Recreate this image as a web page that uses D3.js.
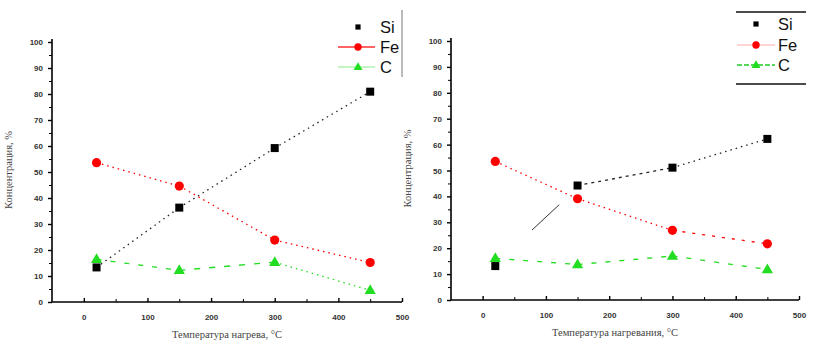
<!DOCTYPE html>
<html><head><meta charset="utf-8">
<script src="https://cdn.jsdelivr.net/npm/d3@7"></script>
<style>body{margin:0;background:#fff}svg{display:block}</style>
</head><body>
<svg id="c" width="822" height="362"></svg>
<script>
const temps = [20, 150, 300, 450];
const xTicks = [0, 100, 200, 300, 400, 500];
const yTicks = [0, 10, 20, 30, 40, 50, 60, 70, 80, 90, 100];
const seriesNames = ["Si", "Fe", "C"];
const siLeft = [13.3, 36.3, 59.2, 80.9];
const feLeft = [53.6, 44.6, 23.8, 15.2];
const cLeft = [16.4, 12.2, 15.3, 4.5];
const siRight = [13.1, 44.2, 51.1, 62.2];
const feRight = [53.5, 39.1, 26.9, 21.7];
const cRight = [16.1, 13.7, 17.0, 11.8];
const strayRight = [[78, 27], [121, 36.8]];
const yTitle = "Концентрация, %";
const xTitleLeft = "Температура нагрева, °С";
const xTitleRight = "Температура нагревания, °С";

const svg = d3.select("#c");

function marker(g, name, x, y, s) {
  s = s || 1;
  if (name === "Si") g.append("rect").attr("x", x - 4*s).attr("y", y - 4*s).attr("width", 8*s).attr("height", 8*s).attr("fill", "#000");
  else if (name === "Fe") g.append("circle").attr("cx", x).attr("cy", y).attr("r", 4.6*s).attr("fill", "#ff0000");
  else g.append("path").attr("d", d3.symbol(d3.symbolTriangle, 55*s*s)()).attr("transform", `translate(${x},${y+0.5})`).attr("fill", "#22dd22");
}

function chart(cfg) {
  const x = d3.scaleLinear().domain([-50, 500]).range([cfg.x0, cfg.x1]);
  const y = d3.scaleLinear().domain([0, 100]).range([cfg.y0, cfg.y1]);
  const g = svg.append("g");
  const ya = d3.axisLeft(y).tickValues(yTicks).tickSize(4).tickFormat(d3.format("d"));
  const yg = g.append("g").attr("transform", `translate(${cfg.x0},0)`).call(ya);
  yg.select(".domain").attr("d", `M0,${cfg.y0}V${cfg.y1 - 3}`).attr("stroke-width", 1.6);
  yg.selectAll(".tick line").attr("stroke-width", 1.4);
  yg.selectAll("text").attr("font-family", "Liberation Sans, Arial").attr("font-size", 8).attr("font-weight", "bold").attr("fill", "#333").attr("dx", -2);
  g.append("g").attr("transform", `translate(${cfg.x0},0)`)
    .call(d3.axisLeft(y).tickValues(d3.range(5, 100, 10)).tickSize(3).tickFormat(""))
    .call(s => s.select(".domain").remove());
  const xa = d3.axisBottom(x).tickValues(xTicks).tickSize(-4).tickPadding(12).tickFormat(d3.format("d"));
  const xg = g.append("g").attr("transform", `translate(0,${cfg.y0})`).call(xa);
  xg.select(".domain").attr("d", `M${cfg.x0},0H${cfg.x1}`).attr("stroke-width", 1.6);
  xg.selectAll(".tick line").attr("stroke-width", 1.4);
  xg.selectAll("text").attr("font-family", "Liberation Sans, Arial").attr("font-size", 8).attr("font-weight", "bold").attr("fill", "#333");
  g.append("g").attr("transform", `translate(0,${cfg.y0})`)
    .call(d3.axisBottom(x).tickValues(d3.range(50, 500, 100)).tickSize(-3).tickFormat(""))
    .call(s => s.select(".domain").remove());
  g.append("text").attr("x", (cfg.x0 + cfg.x1) / 2 + cfg.tdx).attr("y", cfg.y0 + 36)
    .attr("text-anchor", "middle").attr("font-family", "Liberation Serif, serif").attr("font-size", 10.5).attr("fill", "#444")
    .text(cfg.xTitle);
  g.append("text").attr("transform", `translate(${cfg.x0 - 40},${y(50) - 2}) rotate(-90)`)
    .attr("text-anchor", "middle").attr("font-family", "Liberation Serif, serif").attr("font-size", 10.5).attr("fill", "#444")
    .text(yTitle);
  cfg.series.forEach(sr => {
    for (let i = 0; i < temps.length - 1; i++) {
      if (sr.dash[i] === null) continue;
      g.append("line")
        .attr("x1", x(temps[i])).attr("y1", y(sr.vals[i]))
        .attr("x2", x(temps[i + 1])).attr("y2", y(sr.vals[i + 1]))
        .attr("stroke", sr.stroke).attr("stroke-width", 1.3)
        .attr("stroke-dasharray", sr.dash[i]);
    }
  });
  if (cfg.stray) {
    g.append("line").attr("x1", x(cfg.stray[0][0])).attr("y1", y(cfg.stray[0][1]))
      .attr("x2", x(cfg.stray[1][0])).attr("y2", y(cfg.stray[1][1]))
      .attr("stroke", "#333").attr("stroke-width", 1);
  }
  cfg.series.forEach(sr => {
    sr.vals.forEach((v, i) => marker(g, sr.name, x(temps[i]), y(v)));
  });
  return {x, y};
}

chart({x0: 52, x1: 402, y0: 302, y1: 42, tdx: 0, xTitle: xTitleLeft,
  series: [
    {name: "C", vals: cLeft, stroke: "#22dd22", dash: ["5,9", "6,9", "1.5,4"]},
    {name: "Fe", vals: feLeft, stroke: "#ff0000", dash: ["1.5,4", "1.5,4", "1.5,4"]},
    {name: "Si", vals: siLeft, stroke: "#222", dash: ["1.5,4", "1.5,4", "1.5,4"]}
  ]});
chart({x0: 451, x1: 799, y0: 300, y1: 41, tdx: -10, xTitle: xTitleRight, stray: strayRight,
  series: [
    {name: "C", vals: cRight, stroke: "#22dd22", dash: ["5,9", "5,9", "5,9"]},
    {name: "Fe", vals: feRight, stroke: "#ff0000", dash: ["1.5,4", "1.5,4", "3,7"]},
    {name: "Si", vals: siRight, stroke: "#222", dash: [null, "3,4", "1.5,4"]}
  ]});

function legend(lx, tx, ys, lineX0, lineX1, lineStyles) {
  const g = svg.append("g");
  seriesNames.forEach((n, i) => {
    const st = lineStyles[i];
    if (st) g.append("line").attr("x1", lineX0).attr("x2", lineX1).attr("y1", ys[i]).attr("y2", ys[i])
      .attr("stroke", st.c).attr("stroke-width", st.w).attr("stroke-dasharray", st.d || null);
    marker(g, n, lx, ys[i], n === "Si" ? 0.65 : 0.8);
    g.append("text").attr("x", tx).attr("y", ys[i] + 6).attr("font-family", "Liberation Sans, Arial")
      .attr("font-size", 16.5).attr("fill", "#111").text(n);
  });
  return g;
}
const lg1 = legend(358, 380, [27, 47, 67], 338, 375, [null, {c: "#ff3030", w: 1.3}, {c: "#88ee88", w: 1}]);
lg1.append("line").attr("x1", 402).attr("x2", 402).attr("y1", 10).attr("y2", 77).attr("stroke", "#777").attr("stroke-width", 1);
const lg2 = legend(756, 778, [24, 45, 65], 737, 775, [null, {c: "#ffaaaa", w: 1}, {c: "#22cc22", w: 1.5, d: "5,2"}]);
lg2.append("line").attr("x1", 736).attr("x2", 806).attr("y1", 12).attr("y2", 12).attr("stroke", "#111").attr("stroke-width", 1.3);
lg2.append("line").attr("x1", 736).attr("x2", 806).attr("y1", 84).attr("y2", 84).attr("stroke", "#111").attr("stroke-width", 1.3);
</script>
</body></html>
